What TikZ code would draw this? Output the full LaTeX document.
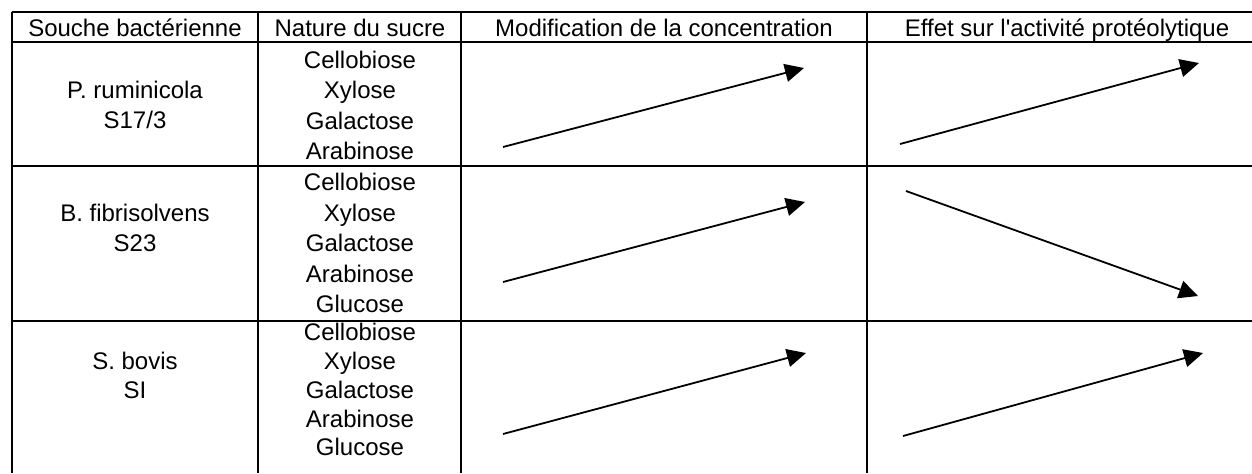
\documentclass[tikz,border=0pt]{standalone}
\usepackage{fontspec}
\setmainfont{Liberation Sans}
\usetikzlibrary{arrows.meta}
\newcommand{\straightquote}{{\XeTeXglyph\XeTeXcharglyph"0027\relax}}
\begin{document}
\begin{tikzpicture}[x=0.5pt,y=-0.5pt,
  grid/.style={line width=1pt, black},
  txt/.style={anchor=base, inner sep=0pt, font=\fontsize{12pt}{14pt}\selectfont},
  trend/.style={line width=0.9pt, -{Triangle[length=9.5pt,width=9pt]}}]
\useasboundingbox (0,0) rectangle (1252,473);
% grid
\draw[grid] (12,12) -- (1252,12);
\draw[grid] (12,42) -- (1252,42);
\draw[grid] (12,166) -- (1252,166);
\draw[grid] (12,321) -- (1252,321);
\draw[grid] (12,12) -- (12,473);
\draw[grid] (258,12) -- (258,473);
\draw[grid] (461,12) -- (461,473);
\draw[grid] (867,12) -- (867,473);
% headers
\node[txt] (h1) at (135,36) {Souche bactérienne};
\node[txt] (h2) at (360,36) {Nature du sucre};
\node[txt] (h3) at (664,36) {Modification de la concentration};
\node[txt] (h4) at (1067,36) {Effet sur l\straightquote activité protéolytique};
% row 1
\node[txt] (s1a) at (135,98) {P. ruminicola};
\node[txt] (s1b) at (135,128) {S17/3};
\node[txt] (r1a) at (360,68) {Cellobiose};
\node[txt] (r1b) at (360,98.5) {Xylose};
\node[txt] (r1c) at (360,129) {Galactose};
\node[txt] (r1d) at (360,159.5) {Arabinose};
% row 2
\node[txt] (s2a) at (135,221) {B. fibrisolvens};
\node[txt] (s2b) at (135,251) {S23};
\node[txt] (r2a) at (360,190) {Cellobiose};
\node[txt] (r2b) at (360,221) {Xylose};
\node[txt] (r2c) at (360,251) {Galactose};
\node[txt] (r2d) at (360,282) {Arabinose};
\node[txt] (r2e) at (360,312) {Glucose};
% row 3
\node[txt] (s3a) at (135,369) {S. bovis};
\node[txt] (s3b) at (135,398) {SI};
\node[txt] (r3a) at (360,340) {Cellobiose};
\node[txt] (r3b) at (360,369) {Xylose};
\node[txt] (r3c) at (360,398) {Galactose};
\node[txt] (r3d) at (360,427) {Arabinose};
\node[txt] (r3e) at (360,455) {Glucose};
% arrows
\coordinate (c1s) at (503,147); \coordinate (c1e) at (804,68);
\coordinate (e1s) at (900,144); \coordinate (e1e) at (1199,63);
\coordinate (c2s) at (503,282); \coordinate (c2e) at (805,202);
\coordinate (e2s) at (906,191); \coordinate (e2e) at (1198,296);
\coordinate (c3s) at (503,434); \coordinate (c3e) at (806,353);
\coordinate (e3s) at (903,436); \coordinate (e3e) at (1203,353);
\draw[trend] (c1s) -- (c1e);
\draw[trend] (e1s) -- (e1e);
\draw[trend] (c2s) -- (c2e);
\draw[trend] (e2s) -- (e2e);
\draw[trend] (c3s) -- (c3e);
\draw[trend] (e3s) -- (e3e);
\end{tikzpicture}
\end{document}
